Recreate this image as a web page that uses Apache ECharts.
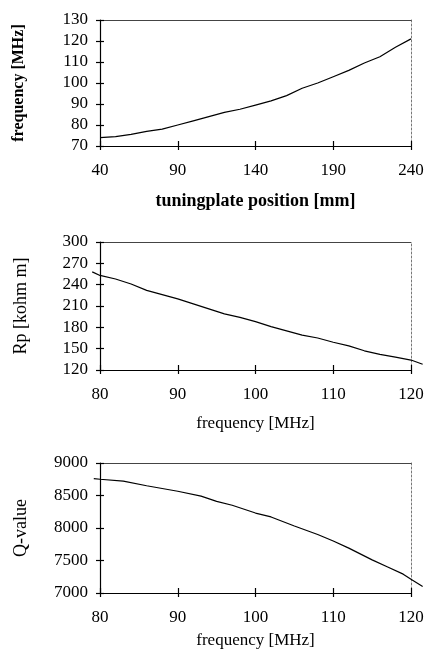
<!DOCTYPE html>
<html>
<head>
<meta charset="utf-8">
<script src="https://cdn.jsdelivr.net/npm/echarts@6/dist/echarts.min.js"></script>
<style>
  html, body { margin: 0; padding: 0; background: #fff; }
  #chart { width: 429px; height: 655px; }
</style>
</head>
<body>
<div id="chart"></div>
<script>
// panel 1: frequency vs tuning plate position
const platePos = [40, 50, 60, 70, 80, 90, 100, 110, 120, 130, 140, 150, 160, 170, 180, 190, 200, 210, 220, 230, 240];
const plateFreq = [74, 74.5, 75.5, 77, 78, 80, 82, 84, 86, 87.5, 89.5, 91.5, 94, 97.5, 100, 103, 106, 109.5, 112.5, 117, 121];

// panel 2: Rp vs frequency
const rpFreq = [79, 80, 82, 84, 86, 88, 90, 92, 94, 96, 98, 100, 102, 104, 106, 108, 110, 112, 114, 116, 118, 120, 121.5];
const rpValue = [258, 253, 248, 241, 232, 226, 220, 213, 206, 199, 194, 188, 181, 175, 169, 165, 159, 154, 147, 142, 138, 134, 128];

// panel 3: Q vs frequency
const qFreq = [79.2, 80, 83, 86, 90, 93, 95, 97, 100, 102, 105, 108, 110, 112, 115, 117, 119, 120, 121.5];
const qValue = [8760, 8750, 8720, 8650, 8565, 8490, 8410, 8350, 8230, 8170, 8030, 7900, 7800, 7690, 7510, 7400, 7290, 7210, 7100];

const font = '"Liberation Serif", "DejaVu Serif", serif';
const LEFT = 100, WIDTH = 311;

// pad: extra x range each side, the curves run a bit past the frame
const panels = [
  { top: 20, height: 126, xMin: 40, xMax: 240, xInt: 50, yMin: 70, yMax: 130, yInt: 10, pad: 0,
    xName: 'tuningplate position [mm]', yName: 'frequency [MHz]', bold: true,
    xSize: 18, ySize: 16, xGap: 46, yGap: 73, xs: platePos, ys: plateFreq },
  { top: 242, height: 128, xMin: 80, xMax: 120, xInt: 10, yMin: 120, yMax: 300, yInt: 30, pad: 2,
    xName: 'frequency [MHz]', yName: 'Rp [kohm m]', bold: false,
    xSize: 17, ySize: 18, xGap: 45, yGap: 70, xs: rpFreq, ys: rpValue },
  { top: 463, height: 130, xMin: 80, xMax: 120, xInt: 10, yMin: 7000, yMax: 9000, yInt: 500, pad: 2,
    xName: 'frequency [MHz]', yName: 'Q-value', bold: false,
    xSize: 17, ySize: 18, xGap: 39, yGap: 70, xs: qFreq, ys: qValue }
];

const grid = [], xAxis = [], yAxis = [], series = [];
const plain = function (v) { return String(v); };
const hidden = { axisLine: { show: false }, axisTick: { show: false }, axisLabel: { show: false }, splitLine: { show: false } };

panels.forEach(function (p, i) {
  grid.push({ left: LEFT, top: p.top, width: WIDTH, height: p.height });
  const weight = p.bold ? 'bold' : 'normal';
  // main bottom axis
  xAxis.push({
    gridIndex: i, type: 'value', min: p.xMin, max: p.xMax, interval: p.xInt,
    name: p.xName, nameLocation: 'middle', nameGap: p.xGap,
    nameTextStyle: { fontFamily: font, fontSize: p.xSize, color: '#000', fontWeight: weight },
    axisLine: { lineStyle: { color: '#000', width: 1.2 } },
    axisTick: { length: 4, lineStyle: { color: '#000', width: 1.2 } },
    axisLabel: { margin: 16, fontFamily: font, fontSize: 17, color: '#000', formatter: plain },
    splitLine: { show: false }
  });
  // inner ticks, so they cross the axis
  xAxis.push({
    gridIndex: i, type: 'value', min: p.xMin, max: p.xMax, interval: p.xInt, position: 'bottom',
    axisLine: { show: false }, axisLabel: { show: false }, splitLine: { show: false },
    axisTick: { inside: true, length: 5, lineStyle: { color: '#000', width: 1.2 } }
  });
  // top frame
  xAxis.push({
    gridIndex: i, type: 'value', min: p.xMin, max: p.xMax, position: 'top',
    axisLine: { lineStyle: { color: '#444', width: 1 } },
    axisTick: { show: false }, axisLabel: { show: false }, splitLine: { show: false }
  });

  yAxis.push({
    gridIndex: i, type: 'value', min: p.yMin, max: p.yMax, interval: p.yInt,
    name: p.yName, nameLocation: 'middle', nameGap: p.yGap, nameRotate: 90,
    nameTextStyle: { fontFamily: font, fontSize: p.ySize, color: '#000', fontWeight: weight },
    axisLine: { lineStyle: { color: '#000', width: 1.2 } },
    axisTick: { length: 4, lineStyle: { color: '#000', width: 1.2 } },
    axisLabel: { margin: 12, fontFamily: font, fontSize: 17, color: '#000', formatter: plain },
    splitLine: { show: false }
  });
  yAxis.push({
    gridIndex: i, type: 'value', min: p.yMin, max: p.yMax, interval: p.yInt, position: 'left',
    axisLine: { show: false }, axisLabel: { show: false }, splitLine: { show: false },
    axisTick: { inside: true, length: 4, lineStyle: { color: '#000', width: 1.2 } }
  });
  // right frame, dotted
  yAxis.push({
    gridIndex: i, type: 'value', min: p.yMin, max: p.yMax, position: 'right',
    axisLine: { lineStyle: { color: '#777', width: 1, type: [2, 2] } },
    axisTick: { show: false }, axisLabel: { show: false }, splitLine: { show: false }
  });
});

// curve grids: same scale as the frames, widened by pad so the line may overrun
panels.forEach(function (p, i) {
  const pxPerUnit = WIDTH / (p.xMax - p.xMin);
  const g = grid.length;
  grid.push({ left: LEFT - p.pad * pxPerUnit, top: p.top,
              width: WIDTH + 2 * p.pad * pxPerUnit, height: p.height });
  xAxis.push(Object.assign({ gridIndex: g, type: 'value', min: p.xMin - p.pad, max: p.xMax + p.pad }, hidden));
  yAxis.push(Object.assign({ gridIndex: g, type: 'value', min: p.yMin, max: p.yMax }, hidden));
  series.push({
    type: 'line', xAxisIndex: xAxis.length - 1, yAxisIndex: yAxis.length - 1,
    data: p.xs.map(function (x, k) { return [x, p.ys[k]]; }),
    showSymbol: false, smooth: false,
    lineStyle: { color: '#000', width: 1.2 },
    silent: true
  });
});

const chart = echarts.init(document.getElementById('chart'));
chart.setOption({
  backgroundColor: '#fff',
  animation: false,
  grid: grid,
  xAxis: xAxis,
  yAxis: yAxis,
  series: series
});
</script>
</body>
</html>
